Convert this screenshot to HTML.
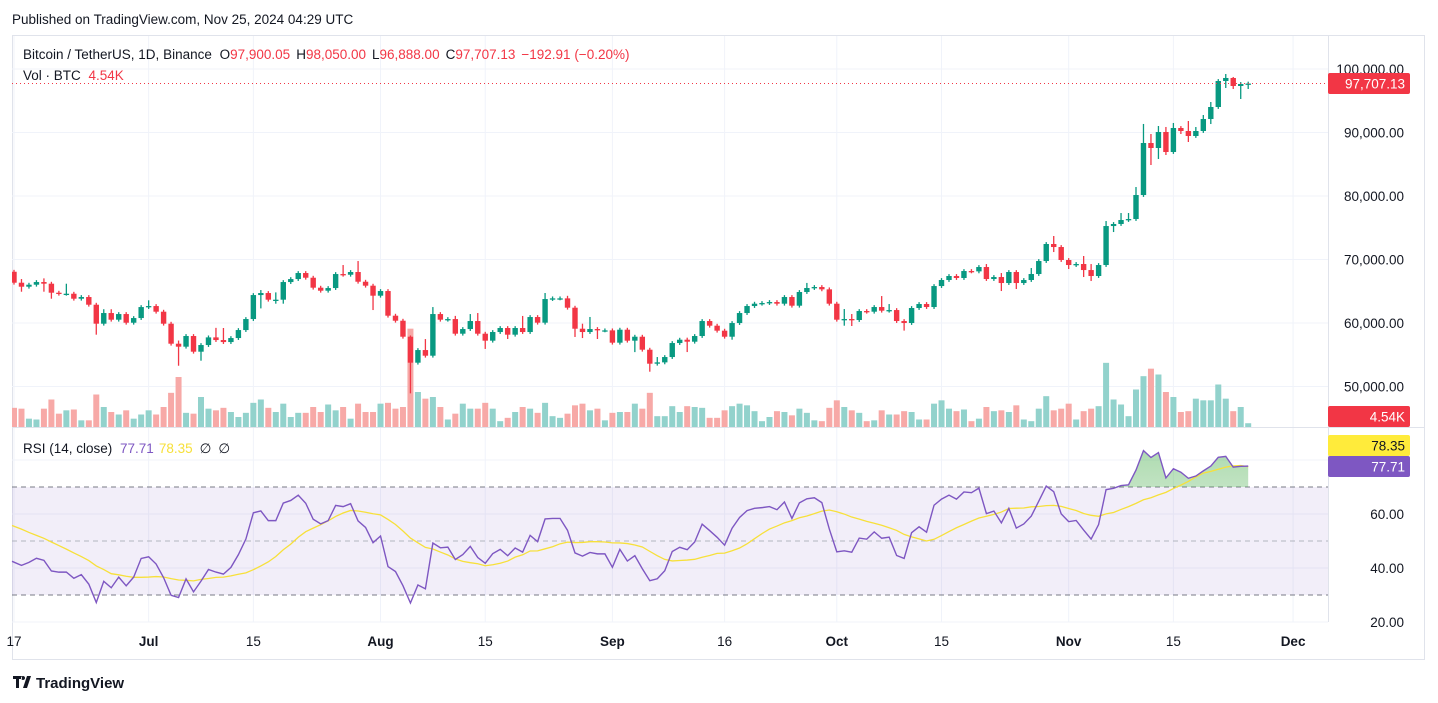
<!DOCTYPE html>
<html><head><meta charset="utf-8"><style>
html,body{margin:0;padding:0;background:#fff;}
svg{display:block;font-family:"Liberation Sans",sans-serif;}
</style></head><body>
<svg id="c" width="1438" height="703" viewBox="0 0 1438 703" xmlns="http://www.w3.org/2000/svg">
<defs>
<linearGradient id="ob" x1="0" y1="0" x2="0" y2="1"><stop offset="0" stop-color="#4caf50" stop-opacity="0.45"/><stop offset="1" stop-color="#4caf50" stop-opacity="0.02"/></linearGradient>
<clipPath id="above70"><rect x="12" y="430" width="1316" height="57"/></clipPath>
<clipPath id="plotclip"><rect x="12" y="36" width="1316" height="586"/></clipPath>
</defs>
<text x="12" y="24" font-size="13.5" fill="#131722">Published on TradingView.com, Nov 25, 2024 04:29 UTC</text>
<rect x="12.5" y="35.5" width="1412" height="624" fill="none" stroke="#e0e3eb"/>
<g id="grid"></g>
<rect x="12" y="487" width="1316" height="108" fill="#7e57c2" fill-opacity="0.1"/>
<g id="rsilevels"></g>
<g id="vol" clip-path="url(#plotclip)"></g>
<g id="candles" clip-path="url(#plotclip)"></g>
<g id="rsi"></g>
<line x1="12" y1="427.5" x2="1425" y2="427.5" stroke="#e0e3eb"/>
<line x1="1328.5" y1="36" x2="1328.5" y2="622" stroke="#e0e3eb"/>
<g id="axes"></g>
<text x="23" y="59" font-size="13.5" fill="#131722">Bitcoin / TetherUS, 1D, Binance <tspan dx="4">O</tspan><tspan fill="#f23645">97,900.05</tspan><tspan dx="6">H</tspan><tspan fill="#f23645">98,050.00</tspan><tspan dx="6">L</tspan><tspan fill="#f23645">96,888.00</tspan><tspan dx="6">C</tspan><tspan fill="#f23645">97,707.13</tspan><tspan dx="6" fill="#f23645">−192.91 (−0.20%)</tspan></text>
<text x="23" y="80" font-size="13.5" fill="#131722">Vol · BTC <tspan dx="4" fill="#f23645">4.54K</tspan></text>
<text x="23" y="453" font-size="13.5" fill="#131722">RSI (14, close) <tspan dx="4" fill="#7e57c2">77.71</tspan><tspan dx="5" fill="#f7e03a">78.35</tspan><tspan dx="7">∅</tspan><tspan dx="7">∅</tspan></text>
<g><path d="M13 676h9v3h-3v9h-3v-9h-3z M23 676a2 2 0 1 0 0.1 0z M27 676h4l-4 12h-4z" fill="#131722"/><text x="36" y="688" font-size="15" font-weight="bold" fill="#131722">TradingView</text></g>
</svg>
<script>
const closes=[66345,65715,66030,66450,66190,64770,64610,64610,63825,64090,62880,59890,61570,60520,61410,60045,60780,62510,62670,61780,59890,56740,56270,57950,55480,56530,57735,57315,57000,57630,58890,60625,64400,64720,63670,63670,66450,66920,67870,67130,65560,65085,65505,67710,67600,68030,66500,65875,64300,65035,61150,60360,57840,53750,55740,54850,61410,60520,60620,58315,59050,60310,58315,57215,58580,59210,58160,59210,58580,60940,60050,63775,63880,63880,62410,59100,58580,59050,58840,58840,56900,58945,57215,57840,55795,53590,53800,54640,56845,57370,57055,57950,60310,59575,58790,57840,59995,61570,62673,63040,63145,63300,63040,64090,62725,64880,65510,65665,65300,63040,60520,60625,60470,61885,61780,62515,61940,62040,60310,60000,62360,62990,62515,65820,66770,67400,67085,68185,68130,68815,66925,67240,66295,68030,66295,66770,67715,69760,72440,71965,69920,69130,69290,68340,67400,69130,75270,75590,76220,76375,80155,88345,87560,90080,86930,90710,90235,89450,90235,92125,94015,98110,98585,97325,97640,97707.13];
const firstOpen=68070;
const upperWick=[300,580,300,300,580,300,300,1575,300,300,300,300,600,600,300,300,300,300,900,300,300,300,500,300,300,300,300,1500,1900,300,300,300,300,470,300,1150,300,300,300,300,300,300,300,300,1420,300,1730,300,300,300,300,300,300,200,300,1730,1100,300,300,500,300,1100,1260,300,300,300,300,300,1900,300,300,950,300,300,400,300,790,1900,300,300,300,300,300,300,300,300,840,300,300,300,320,300,300,300,300,300,300,300,300,300,300,300,300,300,300,300,800,300,300,300,300,1575,790,300,300,300,1730,945,300,300,300,300,300,300,300,300,300,300,300,300,470,300,630,300,300,300,945,300,300,1260,300,300,300,1260,945,300,790,300,1100,945,1260,3000,1420,945,790,790,300,1575,630,630,790,300,630,160];
const lowerWick=[300,790,300,300,1260,945,300,300,300,300,300,1730,300,300,300,300,300,300,300,300,300,300,3000,300,300,1420,300,300,300,300,300,300,300,2100,300,630,630,300,300,300,300,300,300,300,300,300,300,300,2260,300,300,300,300,4830,300,300,300,300,300,300,300,300,300,1300,300,300,680,300,300,300,300,300,300,300,300,1300,950,300,1360,300,300,300,300,1800,300,1260,300,300,300,300,1630,300,300,300,300,300,470,300,300,300,300,300,300,300,300,300,300,300,300,300,300,945,945,300,300,300,300,300,300,1200,300,300,300,300,300,300,300,300,300,300,300,300,1260,300,945,300,300,300,300,790,300,630,300,1100,790,300,300,945,300,300,300,300,2680,1730,470,300,470,945,300,300,790,300,1100,470,2050,790];
const volumes=[23,22,10,9,22,33,16,20,21,8,8,39,24,18,15,20,10,15,20,15,24,41,60,17,16,36,22,20,23,18,12,17,29,33,23,18,28,12,17,17,24,18,27,20,24,10,28,18,18,28,29,22,24,118,42,34,36,24,9,16,28,22,22,29,22,7,11,18,24,22,17,29,13,11,16,26,28,20,22,8,17,18,18,28,22,41,13,13,25,18,25,24,23,11,11,20,25,28,26,19,7,12,19,18,14,22,17,8,7,23,32,24,20,17,7,8,20,15,15,19,18,9,9,28,32,22,19,21,7,10,24,19,20,18,26,9,7,22,37,20,22,28,9,19,22,25,77,33,27,13,45,61,70,63,42,36,18,19,34,32,32,51,34,19,24,4.54];
const rsiSeedGain=600, rsiSeedLoss=680;
const rsiHistory=[60,59,59,58,58,57,57,56,56,55,55,54,54];
const priceTicks=[100000,90000,80000,70000,60000,50000];
const rsiTicks=[80,60,40,20];
const timeLabels=["17","Jul","15","Aug","15","Sep","16","Oct","15","Nov","15","Dec"];
const timeLabelDays=[-14,0,14,31,45,62,77,92,106,123,137,153];
const firstBarDay=-18;

const NS="http://www.w3.org/2000/svg";
function mk(tag,attrs,parent){const e=document.createElementNS(NS,tag);for(const k in attrs)e.setAttribute(k,attrs[k]);parent.appendChild(e);return e;}
const xBar=i=>14+i*7.48;
const xDay=d=>xBar(d-firstBarDay);
const yP=p=>69+(100000-p)*0.00635;
const yR=r=>541-(r-50)*2.7;
const yV=v=>427-v/1.2;
const G=document.getElementById('grid'),V=document.getElementById('vol'),C=document.getElementById('candles'),R=document.getElementById('rsi'),A=document.getElementById('axes'),L=document.getElementById('rsilevels');

timeLabels.forEach((t,k)=>{let x=xDay(timeLabelDays[k]);if(k===0)x=14;
 const ln=mk('line',{x1:x,y1:36,x2:x,y2:622,stroke:'#f0f3fa'},G);
 
 const bold=(t==='Jul'||t==='Aug'||t==='Sep'||t==='Oct'||t==='Nov'||t==='Dec');
 const tx=mk('text',{x:x,y:646,'font-size':13.5,'text-anchor':'middle',fill:'#131722','font-weight':bold?'bold':'normal'},A);
 tx.textContent=t;});
priceTicks.forEach(p=>{const y=yP(p);
 const ln=mk('line',{x1:12,y1:y,x2:1328,y2:y,stroke:'#f0f3fa'},G);
 
 const tx=mk('text',{x:1404,y:y+5,'font-size':13.5,'text-anchor':'end',fill:'#131722'},A);
 tx.textContent=p.toLocaleString('en-US',{minimumFractionDigits:2});
 });
rsiTicks.forEach(r=>{const y=yR(r);
 const ln=mk('line',{x1:12,y1:y,x2:1328,y2:y,stroke:'#f0f3fa'},G);
 
 if(r!==80){const tx=mk('text',{x:1404,y:y+5,'font-size':13.5,'text-anchor':'end',fill:'#131722'},A);
 tx.textContent=r.toFixed(2);}});
[70,50,30].forEach(r=>{const y=yR(r);
 const ln=mk('line',{x1:12,y1:y,x2:1328,y2:y,stroke:r===50?'#b2b5be':'#787b86','stroke-dasharray':'5,4'},L);
 });

let prev=firstOpen;
closes.forEach((c,i)=>{const o=prev;prev=c;const up=c>=o;const x=xBar(i);
 const uw=upperWick[i]!==undefined?upperWick[i]:300, lw=lowerWick[i]!==undefined?lowerWick[i]:300;
 const hi=Math.max(o,c)+uw,lo=Math.min(o,c)-lw;
 const col=up?'#089981':'#f23645';
 const vv=volumes[i]!==undefined?volumes[i]:10;
 const vb=mk('rect',{x:x-3,y:yV(vv),width:6,height:427-yV(vv),fill:up?'#92d2cc':'#f7a9a7'},V);
 
 const w=mk('line',{x1:x,y1:yP(hi),x2:x,y2:yP(lo),stroke:col,'stroke-width':1.3},C);
 
 const top=yP(Math.max(o,c)),bh=Math.max(1.3,yP(Math.min(o,c))-top);
 const b=mk('rect',{x:x-2.7,y:top,width:5.4,height:bh,fill:col},C);
 });

let ag=rsiSeedGain,al=rsiSeedLoss;const rsi=[];let pc=firstOpen;
closes.forEach(c=>{const ch=c-pc;pc=c;ag=(ag*13+Math.max(ch,0))/14;al=(al*13+Math.max(-ch,0))/14;rsi.push(100-100/(1+ag/al));});
const all=rsiHistory.concat(rsi);const ma=rsi.map((_,i)=>{let s=0;for(let k=i;k<i+14;k++)s+=all[k];return s/14;});
const rp=rsi.map((r,i)=>[i===0?12:xBar(i),yR(r)]);
const fill=mk('path',{d:'M'+rp.map(p=>p.join(',')).join('L')+`L${xBar(rsi.length-1)},${yR(70)}L12,${yR(70)}Z`,fill:'url(#ob)','clip-path':'url(#above70)'},R);

const mal=mk('polyline',{points:ma.map((m,i)=>(i===0?12:xBar(i))+','+yR(m)).join(' '),fill:'none',stroke:'#f7e03a','stroke-width':1.3},R);

const rl=mk('polyline',{points:rp.map(p=>p.join(',')).join(' '),fill:'none',stroke:'#7e57c2','stroke-width':1.4},R);


const lc=closes[closes.length-1];
const pl=mk('line',{x1:12,y1:yP(lc),x2:1328,y2:yP(lc),stroke:'#f23645','stroke-dasharray':'1,3'},A);

function tag(y,bg,fg,txt,name){const g=mk('g',{},A);
 mk('rect',{x:1328,y:y-10.5,width:82,height:21,rx:2,fill:bg},g);
 const t=mk('text',{x:1405,y:y+5,'font-size':13.5,'text-anchor':'end',fill:fg},g);t.textContent=txt;}
tag(yP(lc),'#f23645','#fff',lc.toLocaleString('en-US',{minimumFractionDigits:2,maximumFractionDigits:2}),'last-price-tag');
tag(416.5,'#f23645','#fff',volumes[volumes.length-1].toFixed(2)+'K','volume-tag');
tag(445.5,'#ffeb3b','#131722','78.35','rsi-ma-tag');
tag(466.5,'#7e57c2','#fff','77.71','rsi-tag');
</script>
</body></html>
